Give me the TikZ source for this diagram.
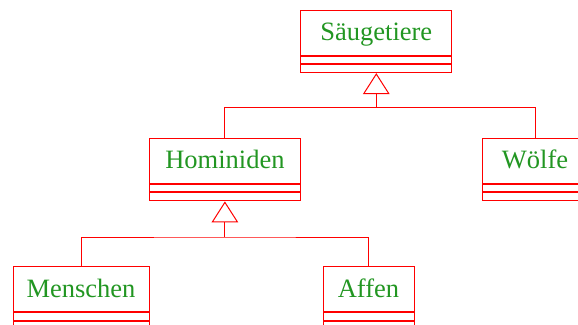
\documentclass[tikz,border=0pt]{standalone}
\usepackage{fontspec}
\setmainfont{Liberation Serif}
\usetikzlibrary{arrows.meta}
\definecolor{linered}{RGB}{255,0,0}
\definecolor{textgreen}{RGB}{34,150,34}
\begin{document}
\begin{tikzpicture}[x=1pt,y=-1pt,
  lw/.style={line width=1pt},
  cls/.style={draw=linered, lw, minimum height=45pt, inner sep=0pt,
    text=textgreen, font=\fontsize{26.5}{30}\selectfont, text height=20pt, text depth=4.4pt},
  compa/.style={draw=linered, lw, minimum height=7.5pt, inner sep=0pt, anchor=north},
  compb/.style={draw=linered, lw, minimum height=8pt, inner sep=0pt, anchor=north},
  link/.style={draw=linered, lw},
  inherit/.style={link, -{Triangle[open, length=21pt, width=26.6pt, line width=1pt]}}
]
\useasboundingbox (0,0) rectangle (578,324);
\clip (0,0) rectangle (578,324);

% Säugetiere
\node[cls, minimum width=151.3pt] (s) at (376.3,32.6) {Säugetiere};
\node[compa, minimum width=151.3pt] (s1) at (s.south) {};
\node[compb, minimum width=151.3pt] (s2) at (s1.south) {};

% Hominiden
\node[cls, minimum width=151.7pt] (h) at (224.9,160.9) {Hominiden};
\node[compa, minimum width=151.7pt] (h1) at (h.south) {};
\node[compb, minimum width=151.7pt] (h2) at (h1.south) {};

% Wölfe
\node[cls, minimum width=106pt] (w) at (535,160.9) {Wölfe};
\node[compa, minimum width=106pt] (w1) at (w.south) {};
\node[compb, minimum width=106pt] (w2) at (w1.south) {};

% Menschen
\node[cls, minimum width=136pt] (m) at (81,289.4) {Menschen};
\node[compa, minimum width=136pt] (m1) at (m.south) {};
\node[compb, minimum width=136pt] (m2) at (m1.south) {};

% Affen
\node[cls, minimum width=91pt] (a) at (368.5,289.4) {Affen};
\node[compa, minimum width=91pt] (a1) at (a.south) {};
\node[compb, minimum width=91pt] (a2) at (a1.south) {};

% Generalisation: Säugetiere
\coordinate (j1) at (376.3,107.7);
\draw[link] (h.north) |- (j1) -| (w.north);
\draw[inherit] (j1) -- (s2.south);

% Generalisation: Hominiden
\coordinate (j2) at (224.9,237);
\draw[link] (m.north) |- (j2) -| (a.north);
\draw[inherit] (j2) -- (h2.south);
\end{tikzpicture}
\end{document}
